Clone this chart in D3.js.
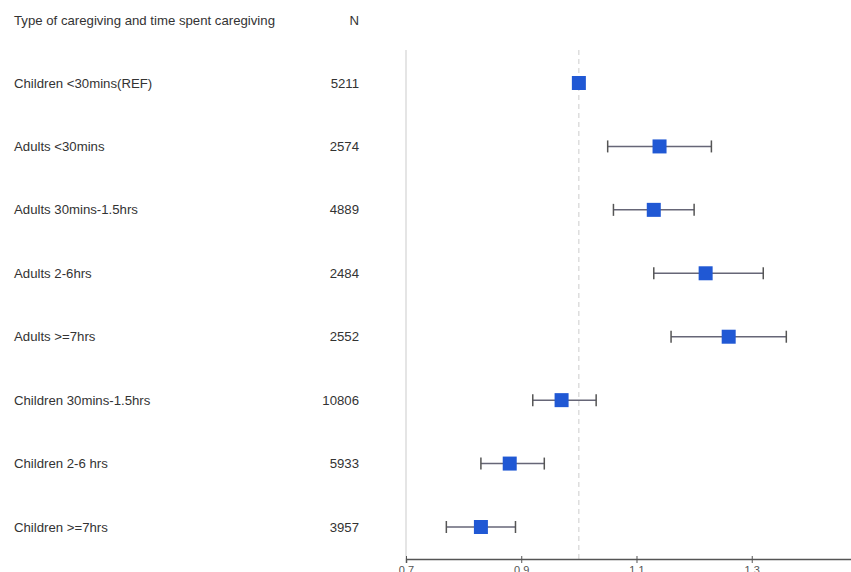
<!DOCTYPE html>
<html>
<head>
<meta charset="utf-8">
<script src="https://cdn.jsdelivr.net/npm/d3@7"></script>
<style>
  body { margin: 0; background: #fff; }
  text { font-family: "Liberation Sans", Arial, sans-serif; }
</style>
</head>
<body>
<div id="chart"></div>
<script>
// forest plot data
var groups = ["Children <30mins(REF)", "Adults <30mins", "Adults 30mins-1.5hrs", "Adults 2-6hrs",
  "Adults >=7hrs", "Children 30mins-1.5hrs", "Children 2-6 hrs", "Children >=7hrs"];
var counts = [5211, 2574, 4889, 2484, 2552, 10806, 5933, 3957];
var estimates = [1.0, 1.14, 1.13, 1.22, 1.26, 0.97, 0.88, 0.83];
var lower = [null, 1.05, 1.06, 1.13, 1.16, 0.92, 0.83, 0.77];
var upper = [null, 1.23, 1.20, 1.32, 1.36, 1.03, 0.94, 0.89];
var tickVals = [0.7, 0.9, 1.1, 1.3];

var width = 851, height = 572;
var fs = 13.2;
var svg = d3.select("#chart").append("svg")
  .attr("width", width)
  .attr("height", height);

var x = d3.scaleLinear().domain([0.7, 1.474]).range([406, 852]);
var y = d3.scalePoint().domain(groups).range([83, 527]);
var axisY = 559;

// headers
svg.append("text").attr("x", 14).attr("y", 20).attr("dy", "0.35em")
  .attr("font-size", fs).attr("fill", "#333")
  .text("Type of caregiving and time spent caregiving");
svg.append("text").attr("x", 359).attr("y", 20).attr("dy", "0.35em")
  .attr("text-anchor", "end").attr("font-size", fs).attr("fill", "#333")
  .text("N");

// row labels and N
groups.forEach(function (g, i) {
  svg.append("text").attr("x", 14).attr("y", y(g)).attr("dy", "0.35em")
    .attr("font-size", fs).attr("fill", "#333").text(g);
  svg.append("text").attr("x", 359).attr("y", y(g)).attr("dy", "0.35em")
    .attr("text-anchor", "end").attr("font-size", fs).attr("fill", "#333")
    .text(counts[i]);
});

// left vertical line
svg.append("line")
  .attr("x1", x(0.7)).attr("x2", x(0.7))
  .attr("y1", 50).attr("y2", axisY)
  .attr("stroke", "#ddd").attr("stroke-width", 1.5);

// reference line at 1
svg.append("line")
  .attr("x1", x(1)).attr("x2", x(1))
  .attr("y1", 50).attr("y2", axisY)
  .attr("stroke", "#ccc").attr("stroke-width", 1)
  .attr("stroke-dasharray", "5,4");

// x axis
var axis = svg.append("g")
  .attr("transform", "translate(0," + axisY + ")")
  .call(d3.axisBottom(x).tickValues(tickVals).tickSize(4).tickFormat(d3.format(".1f")));
axis.select(".domain").attr("stroke", "#555").attr("stroke-width", 1.5);
axis.selectAll(".tick line").attr("stroke", "#555").attr("y1", -3);
axis.selectAll(".tick text").attr("fill", "#555").attr("font-size", 11)
  .attr("font-family", "Liberation Sans, Arial, sans-serif").attr("y", 7);

// error bars
var rows = svg.append("g");
groups.forEach(function (g, i) {
  var cy = y(g);
  if (lower[i] !== null) {
    rows.append("line")
      .attr("x1", x(lower[i])).attr("x2", x(upper[i]))
      .attr("y1", cy).attr("y2", cy)
      .attr("stroke", "#667").attr("stroke-width", 1.5);
    [lower[i], upper[i]].forEach(function (v) {
      rows.append("line")
        .attr("x1", x(v)).attr("x2", x(v))
        .attr("y1", cy - 6).attr("y2", cy + 6)
        .attr("stroke", "#555").attr("stroke-width", 1.5);
    });
  }
  var s = 14;
  rows.append("rect")
    .attr("x", x(estimates[i]) - s / 2).attr("y", cy - s / 2)
    .attr("width", s).attr("height", s)
    .attr("fill", "#2058d4");
});
</script>
</body>
</html>
